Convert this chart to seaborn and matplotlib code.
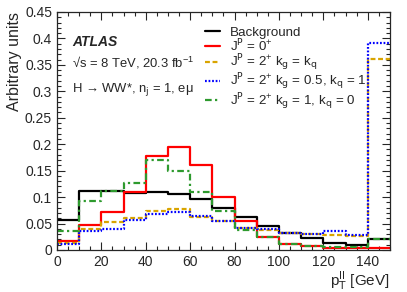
import matplotlib

matplotlib.use("Agg")
import matplotlib.pyplot as plt
import numpy as np
import seaborn as sns
from matplotlib.ticker import FuncFormatter, MultipleLocator

# =============================================================================
# Data: normalised pT(ll) distributions, 10 GeV bins from 0 to 150 GeV
# =============================================================================

bin_edges = [0, 10, 20, 30, 40, 50, 60, 70, 80, 90, 100, 110, 120, 130, 140, 150]

background = [0.057, 0.111, 0.111, 0.108, 0.110, 0.106, 0.096, 0.079,
              0.062, 0.046, 0.033, 0.022, 0.014, 0.010, 0.021]
spin0 = [0.016, 0.047, 0.072, 0.109, 0.178, 0.194, 0.161, 0.101,
         0.055, 0.025, 0.011, 0.008, 0.004, 0.003, 0.004]
spin2_univ = [0.013, 0.039, 0.052, 0.060, 0.074, 0.077, 0.062, 0.054,
              0.041, 0.038, 0.033, 0.030, 0.028, 0.026, 0.362]
spin2_kg05 = [0.011, 0.036, 0.039, 0.057, 0.068, 0.072, 0.064, 0.054,
              0.041, 0.039, 0.033, 0.031, 0.036, 0.028, 0.391]
spin2_kq0 = [0.036, 0.093, 0.112, 0.126, 0.170, 0.149, 0.110, 0.074,
             0.038, 0.025, 0.011, 0.008, 0.006, 0.005, 0.021]

labels = [
    "Background",
    r"J$^{\rm P}$ = 0$^{+}$",
    r"J$^{\rm P}$ = 2$^{+}$ k$_{\rm g}$ = k$_{\rm q}$",
    r"J$^{\rm P}$ = 2$^{+}$ k$_{\rm g}$ = 0.5, k$_{\rm q}$ = 1",
    r"J$^{\rm P}$ = 2$^{+}$ k$_{\rm g}$ = 1, k$_{\rm q}$ = 0",
]

# =============================================================================
# Style
# =============================================================================

sns.set_theme(style="ticks")
plt.rcParams["font.family"] = ["Liberation Sans", "DejaVu Sans"]
plt.rcParams["mathtext.default"] = "regular"

fig = plt.figure(figsize=(4.07, 2.92), dpi=100)
ax = fig.add_axes([0.140, 0.144, 0.818, 0.815])

centers = 0.5 * (np.array(bin_edges[:-1]) + np.array(bin_edges[1:]))

series = [
    (background, "black", "-", 1.6),
    (spin0, "#ff0000", "-", 1.6),
    (spin2_univ, "#d9a400", (0, (2.2, 1.2)), 1.6),
    (spin2_kg05, "#0000ff", (0, (0.8, 0.8)), 1.6),
    (spin2_kq0, "#2e9a2e", (0, (3, 1.5, 1, 1.5)), 1.6),
]

for (vals, color, ls, lw), label in zip(series, labels):
    sns.histplot(
        x=centers,
        weights=vals,
        bins=bin_edges,
        element="step",
        fill=False,
        color=color,
        linestyle=ls,
        linewidth=lw,
        label=label,
        ax=ax,
    )

ax.set_xlim(0, 150)
ax.set_ylim(0, 0.45)
ax.xaxis.set_major_locator(MultipleLocator(20))
ax.xaxis.set_minor_locator(MultipleLocator(5))
ax.yaxis.set_major_locator(MultipleLocator(0.05))
ax.yaxis.set_minor_locator(MultipleLocator(0.01))
ax.yaxis.set_major_formatter(FuncFormatter(lambda v, _: f"{v:g}"))
ax.tick_params(which="both", direction="in", top=True, right=True, labelsize=10)
ax.tick_params(which="major", length=6, width=0.8)
ax.tick_params(which="minor", length=3, width=0.8)
for spine in ax.spines.values():
    spine.set_linewidth(0.9)

ax.set_xlabel(r"$p_{\rm T}^{\rm ll}$ [GeV]", fontsize=11, loc="right", labelpad=0)
ax.set_ylabel("Arbitrary units", fontsize=11.5, loc="top", labelpad=2)

ax.text(0.045, 0.875, "ATLAS", transform=ax.transAxes, fontsize=10,
        fontweight="bold", fontstyle="italic", va="center")
ax.text(0.045, 0.785, "\u221as = 8 TeV, 20.3 fb$^{-1}$", transform=ax.transAxes,
        fontsize=9.4, va="center")
ax.text(0.045, 0.675, "H \u2192 WW*, n$_{\\rm j}$ = 1, e\u03bc", transform=ax.transAxes,
        fontsize=9.4, va="center")

ax.legend(loc="upper left", bbox_to_anchor=(0.445, 0.94), frameon=False, fontsize=9.6,
          handlelength=1.1, handletextpad=0.75, labelspacing=-0.1, borderaxespad=0.0,
          borderpad=0.0)

fig.savefig("out.png", dpi=100)
